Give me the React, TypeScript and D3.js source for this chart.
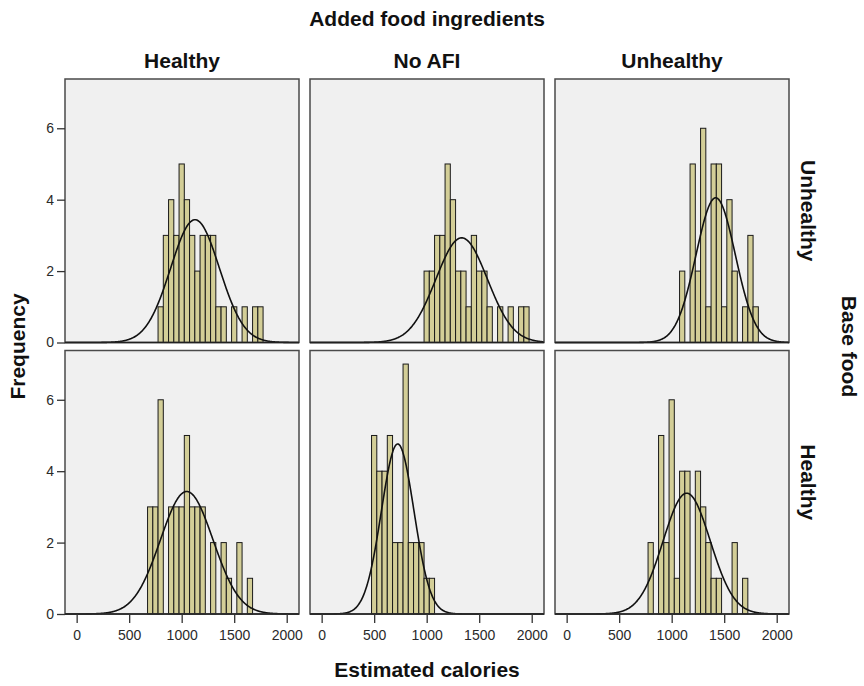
import React, { useRef, useEffect } from 'react';
import * as d3 from 'd3';

const colTitles = ['Healthy', 'No AFI', 'Unhealthy'];
const rowTitles = ['Unhealthy', 'Healthy'];
const xTicks = [0, 500, 1000, 1500, 2000];
const yTicks = [0, 2, 4, 6];
const binWidth = 50;

// frequencies per 50-calorie bin, base food (row) x added food ingredients (col)
const countsUnhealthyHealthy = [1, 3, 4, 3, 5, 4, 3, 2, 3, 3, 3, 1, 1, 0, 1, 0, 1, 0, 1, 1];
const countsUnhealthyNoAfi = [2, 2, 3, 3, 5, 4, 2, 2, 1, 3, 2, 2, 1, 0, 1, 0, 1, 0, 1, 1];
const countsUnhealthyUnhealthy = [2, 0, 5, 2, 6, 1, 5, 5, 1, 4, 2, 0, 1, 3, 1];
const countsHealthyHealthy = [3, 3, 6, 0, 3, 3, 3, 5, 3, 3, 3, 0, 2, 0, 2, 1, 0, 2, 0, 1];
const countsHealthyNoAfi = [5, 4, 4, 5, 2, 2, 7, 2, 2, 2, 1, 1];
const countsHealthyUnhealthy = [2, 0, 5, 2, 6, 1, 4, 4, 0, 4, 3, 2, 1, 1, 0, 0, 2, 0, 1];

const panelCounts = [
  countsUnhealthyHealthy, countsUnhealthyNoAfi, countsUnhealthyUnhealthy,
  countsHealthyHealthy, countsHealthyNoAfi, countsHealthyUnhealthy,
];
const binStarts = [775, 975, 1075, 675, 475, 775];

// normal curve fitted in each panel
const fitMeans = [1127, 1333, 1419, 1048, 724, 1143];
const fitSds = [232, 245, 187, 250, 155, 224];

const App: React.FC = () => {
  const svgRef = useRef<SVGSVGElement | null>(null);

  useEffect(() => {
    const svg = d3.select(svgRef.current);
    svg.selectAll('*').remove();

    const font = '"Liberation Sans", Arial, sans-serif';
    const panelW = 234;
    const panelH = 263.5;
    const colX = [65, 310, 555];
    const rowY = [79, 350.5];

    const x = d3.scaleLinear().domain([-111, 2117]).range([0, panelW]);
    const y = d3.scaleLinear().domain([0, 7.38]).range([panelH, 0]);

    const pdf = (v: number, m: number, s: number) =>
      Math.exp(-((v - m) ** 2) / (2 * s * s)) / (s * Math.sqrt(2 * Math.PI));

    for (let r = 0; r < 2; r++) {
      for (let c = 0; c < 3; c++) {
        const idx = r * 3 + c;
        const counts = panelCounts[idx];
        const start = binStarts[idx];
        const g = svg.append('g').attr('transform', `translate(${colX[c]},${rowY[r]})`);

        g.append('rect')
          .attr('width', panelW)
          .attr('height', panelH)
          .attr('fill', '#f0f0f0');

        const bins = counts
          .map((n, i) => ({ x0: start + i * binWidth, n }))
          .filter(d => d.n > 0);

        g.append('g')
          .selectAll('rect')
          .data(bins)
          .enter()
          .append('rect')
          .attr('x', d => x(d.x0))
          .attr('width', d => x(d.x0 + binWidth) - x(d.x0))
          .attr('y', d => y(d.n))
          .attr('height', d => panelH - y(d.n))
          .attr('fill', '#d3ce97')
          .attr('stroke', '#1a1a1a')
          .attr('stroke-width', 1);

        const total = d3.sum(counts);
        const xs = d3.range(-111, 2120, 4);
        const line = d3.line<number>()
          .x(v => x(v))
          .y(v => y(total * binWidth * pdf(v, fitMeans[idx], fitSds[idx])))
          .curve(d3.curveBasis);

        g.append('path')
          .datum(xs)
          .attr('d', line)
          .attr('fill', 'none')
          .attr('stroke', '#111')
          .attr('stroke-width', 1.6);

        g.append('rect')
          .attr('width', panelW)
          .attr('height', panelH)
          .attr('fill', 'none')
          .attr('stroke', '#4a4a4a')
          .attr('stroke-width', 1.5);

        g.append('line')
          .attr('x1', 0)
          .attr('x2', panelW)
          .attr('y1', panelH)
          .attr('y2', panelH)
          .attr('stroke', '#222')
          .attr('stroke-width', 1.6);
      }
    }

    // y axes
    rowY.forEach(ry => {
      const ax = svg.append('g')
        .attr('transform', `translate(${colX[0]},${ry})`)
        .call(d3.axisLeft(y).tickValues(yTicks).tickSize(8).tickPadding(3).tickFormat(d3.format('d')));
      ax.select('.domain').remove();
      ax.selectAll('line').attr('stroke', '#333').attr('stroke-width', 1.3);
      ax.selectAll('text').attr('font-family', font).attr('font-size', 14).attr('fill', '#2a2a2a');
    });

    // x axes
    colX.forEach(cx => {
      const ax = svg.append('g')
        .attr('transform', `translate(${cx},${rowY[1] + panelH})`)
        .call(d3.axisBottom(x).tickValues(xTicks).tickSize(9).tickPadding(7).tickFormat(d3.format('d')));
      ax.select('.domain').remove();
      ax.selectAll('line').attr('stroke', '#333').attr('stroke-width', 1.3);
      ax.selectAll('text').attr('font-family', font).attr('font-size', 14).attr('fill', '#2a2a2a');
    });

    const title = (t: string, tx: number, ty: number, rot = 0) =>
      svg.append('text')
        .attr('transform', `translate(${tx},${ty}) rotate(${rot})`)
        .attr('text-anchor', 'middle')
        .attr('font-family', font)
        .attr('font-weight', 'bold')
        .attr('font-size', 21)
        .attr('fill', '#111')
        .text(t);

    title('Added food ingredients', colX[1] + panelW / 2, 26);
    colTitles.forEach((t, i) => title(t, colX[i] + panelW / 2, 68));
    rowTitles.forEach((t, i) => title(t, 801, rowY[i] + panelH / 2, 90));
    title('Base food', 842, (rowY[0] + rowY[1] + panelH) / 2, 90);
    title('Frequency', 25, (rowY[0] + rowY[1] + panelH) / 2, -90);
    title('Estimated calories', colX[1] + panelW / 2, 677);
  }, []);

  return (
    <svg ref={svgRef} width={864} height={686}
      style={{ position: 'absolute', left: 0, top: 0, background: '#fff' }} />
  );
};

export default App;
